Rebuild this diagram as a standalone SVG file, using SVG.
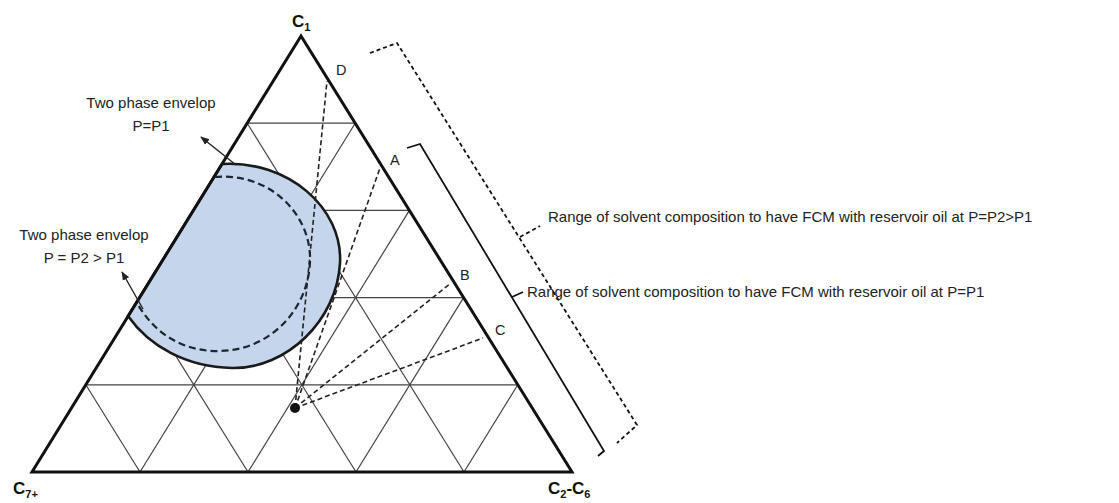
<svg xmlns="http://www.w3.org/2000/svg" width="1119" height="503" viewBox="0 0 1119 503">
<style>
.grid{stroke:#444;stroke-width:1.2;fill:none}
.tri{stroke:#111;stroke-width:3;fill:none;stroke-linejoin:miter}
.env{fill:#c5d5eb;stroke:#1a1a1a;stroke-width:2.6}
.env2{fill:none;stroke:#1c2533;stroke-width:2.2;stroke-dasharray:7,4}
.tie{stroke:#222;stroke-width:1.6;stroke-dasharray:5,3;fill:none}
.arr{stroke:#222;stroke-width:1.4;fill:none}
.brs{stroke:#111;stroke-width:1.8;fill:none}
.brd{stroke:#111;stroke-width:1.8;fill:none;stroke-dasharray:4,3}
text{font-family:"Liberation Sans",Arial,sans-serif;fill:#222}
.t{font-size:15px}
.pt{font-size:14.5px}
.ax{font-size:17px;font-weight:bold;fill:#111}
.sub{font-size:11px}
</style>
<defs>
<marker id="ah" viewBox="0 0 10 10" refX="9" refY="5" markerWidth="9" markerHeight="9" markerUnits="userSpaceOnUse" orient="auto"><path d="M0,1 L10,5 L0,9 z" fill="#222"/></marker>
</defs>
<rect width="1119" height="503" fill="#fff"/>
<g id="grid" class="grid">
<line x1="247.2" y1="123.2" x2="355.2" y2="123.2"/>
<line x1="193.4" y1="210.4" x2="409.4" y2="210.4"/>
<line x1="139.6" y1="297.6" x2="463.6" y2="297.6"/>
<line x1="85.8" y1="384.8" x2="517.8" y2="384.8"/>
<line x1="140" y1="472" x2="355.2" y2="123.2"/>
<line x1="248" y1="472" x2="409.4" y2="210.4"/>
<line x1="356" y1="472" x2="463.6" y2="297.6"/>
<line x1="464" y1="472" x2="517.8" y2="384.8"/>
<line x1="140" y1="472" x2="85.8" y2="384.8"/>
<line x1="248" y1="472" x2="139.6" y2="297.6"/>
<line x1="356" y1="472" x2="193.4" y2="210.4"/>
<line x1="464" y1="472" x2="247.2" y2="123.2"/>
</g>
<g id="envelope-p1">
<path class="env" d="M222,164 C288,160 343,208 340,263 C337,320 287,369 232,368 C186,367 149,346 128,316 Z"/>
</g>
<g id="triangle">
<path class="tri" d="M301,36 L572,472 L32,472 Z"/>
</g>
<g id="envelope-p2">
<path class="env2" d="M215,177 C270,172 312,215 310,262 C308,310 270,350 220,351 C185,352 155,335 137,303"/>
</g>
<g id="connectors">
<line class="tie" x1="295" y1="408" x2="327" y2="81"/>
<line class="tie" x1="295" y1="408" x2="380" y2="168"/>
<line class="tie" x1="295" y1="408" x2="451" y2="283"/>
<line class="tie" x1="295" y1="408" x2="483" y2="338"/>
<line class="arr" x1="236" y1="165" x2="201" y2="137" marker-end="url(#ah)"/>
<line class="arr" x1="143" y1="309" x2="122" y2="272" marker-end="url(#ah)"/>
<path class="brs" d="M407,148 L420,144 L604,451 L598,456"/>
<line class="brs" x1="512" y1="297" x2="523" y2="292"/>
<path class="brd" d="M370,53 L397,43 L637,425 L617,443"/>
<line class="brd" x1="520" y1="237" x2="540" y2="226"/>
</g>
<g id="point-oil">
<circle cx="295" cy="408" r="5" fill="#111"/>
</g>
<g id="labels">
<text class="ax" x="292" y="27">C<tspan class="sub" dy="4">1</tspan></text>
<text class="ax" x="13" y="494">C<tspan class="sub" dy="4">7+</tspan></text>
<text class="ax" x="548" y="494">C<tspan class="sub" dy="4">2</tspan><tspan dy="-4">-C</tspan><tspan class="sub" dy="4">6</tspan></text>
<text class="pt" x="336" y="75">D</text>
<text class="pt" x="390" y="165">A</text>
<text class="pt" x="460" y="280">B</text>
<text class="pt" x="495" y="335">C</text>
<text class="t" x="151" y="108" text-anchor="middle">Two phase envelop</text>
<text class="t" x="151" y="131" text-anchor="middle">P=P1</text>
<text class="t" x="84" y="240" text-anchor="middle">Two phase envelop</text>
<text class="t" x="84" y="263" text-anchor="middle">P = P2 &gt; P1</text>
<text class="t" x="548" y="222">Range of solvent composition to have FCM with reservoir oil at P=P2&gt;P1</text>
<text class="t" x="527" y="297">Range of solvent composition to have FCM with reservoir oil at P=P1</text>
</g>
</svg>
